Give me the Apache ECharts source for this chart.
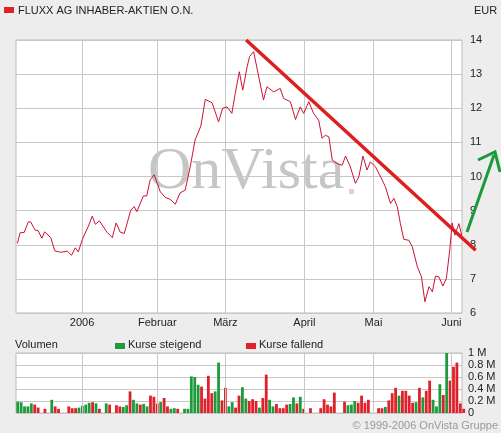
<!DOCTYPE html>
<html><head><meta charset="utf-8">
<script src="https://cdn.jsdelivr.net/npm/echarts@6/dist/echarts.min.js"></script>
<style>html,body{margin:0;padding:0;background:#ededed}#c{width:501px;height:433px}</style>
</head><body><div id="c"></div>
<script>
const title = "FLUXX AG INHABER-AKTIEN O.N.";
const priceDay = [0.4,1.2,2.4,3.6,4.3,5.6,6.5,7.6,8.4,10.2,11.4,13.1,15.1,16.3,17.4,18.3,19.5,21.2,22.4,23.3,24.5,26.7,28.3,29.4,30.6,31.8,33.7,34.7,35.5,37.4,38.4,39.4,40.6,42.4,43.8,45.3,46.8,48.2,49.7,51.2,52.6,54.3,55.6,57.6,59.5,60.7,62,63.4,64.4,65.6,66.6,67.9,68.6,69.8,72.7,73.7,75.7,77.6,78.6,80.6,82.1,83.5,84.5,86,87.4,88.9,89.9,90.9,91.9,92.9,94.3,95.8,96.8,98.2,99.7,100.7,101.9,103.1,104.1,105.6,107.1,108.5,110,111,112,112.9,113.9,115.4,116.4,117.9,119.1,120.1,121.3,122.3,123.2,124.2,125.4,126.4,127.4,128.1,128.9,130.1,130.9];
const priceVal = [8.04,8.35,8.36,8.67,8.67,8.43,8.41,8.19,8.38,8.21,7.82,7.78,7.81,7.69,7.91,7.79,8.16,8.53,8.84,8.6,8.7,8.37,8.21,8.64,8.37,8.33,9.01,9.12,8.97,9.43,9.43,9.9,10.05,9.55,9.39,9.33,9.19,9.52,9.6,10.3,11.07,11.48,12.26,12.16,11.6,12.0,12.04,11.85,12.44,13.07,12.53,13.22,13.51,13.66,12.24,12.63,12.48,12.58,12.29,12.19,11.67,12.04,11.85,12.19,11.85,11.65,11.12,11.21,11.16,10.48,10.38,10.33,10.6,10.28,9.8,9.99,10.6,10.19,10.43,10.28,9.99,9.7,9.21,9.36,9.11,8.62,8.16,8.13,7.94,7.35,7.06,6.33,6.77,6.62,7.08,7.06,6.79,7.01,7.84,8.64,8.28,8.62,8.28];
const volume = [0.19,0.18,0.11,0.11,0.16,0.14,0.09,0,0.07,0,0.22,0.11,0.07,0,0,0.11,0.08,0.08,0.09,0.12,0.14,0.17,0.18,0.16,0.07,0,0.16,0.14,0,0.13,0.11,0.10,0.13,0.36,0.22,0.16,0.14,0.15,0.11,0.29,0.27,0.16,0.18,0.25,0.11,0.07,0.08,0.07,0,0.07,0.07,0.61,0.60,0.47,0.44,0.24,0.62,0.33,0.36,0.84,0.21,0.42,0.11,0.18,0.09,0.29,0.43,0.24,0.20,0.23,0.20,0.09,0.25,0.64,0.22,0.11,0.15,0.08,0.08,0.14,0.15,0.26,0.16,0.27,0.07,0,0.08,0,0,0.08,0.23,0.14,0.11,0.34,0,0,0.19,0.13,0.14,0.20,0.17,0.29,0.17,0.22,0,0,0.08,0.08,0.10,0.21,0.33,0.42,0.29,0.37,0.37,0.29,0.17,0.18,0.42,0.26,0.37,0.54,0.22,0.11,0.48,0.30,1.0,0.54,0.77,0.84,0.16,0.07];
const volDir = "gggggrr-rrgr--grrrggggrg-rg-grrggrggrggrrrgrrgg-ggggggrrrrggrrggrrggrrrgrrggrrrrgg-g--rrgrr--rrrrgggr--rrrrrgrrrgrrrrgrgrrgggrgr";
const monthPos = [19.4,41.5,61.5,84.7,105,127.9];
const monthNames = ["2006","Februar","März","April","Mai","Juni"];
const trend = [[67.6,14],[135,7.84]];

const G='#1e9a3c', R='#e0202a';
const volData = volume.map((v,i)=>({value:[i+0.5,v],itemStyle:{color:volDir[i]==='g'?G:R}}));
const chart = echarts.init(document.getElementById('c'));
const ff = 'Liberation Sans, Arial, sans-serif';
const baseGraphic = [
    {type:'text',left:148,top:142,z:0,style:{text:'OnVista',font:'60px "Liberation Serif", serif',fill:'#c6c6c6'}},
    {type:'rect',left:349,top:189,z:0,shape:{width:5,height:5},style:{fill:'#f0c8d0'}},
    {type:'rect',left:4,top:7,shape:{width:10,height:6},style:{fill:R}},
    {type:'text',left:18,top:5,style:{text:title,font:'11px '+ff,fill:'#222'}},
    {type:'text',left:474,top:5,style:{text:'EUR',font:'11px '+ff,fill:'#222'}},
    {type:'text',left:15,top:339,style:{text:'Volumen',font:'11px '+ff,fill:'#222'}},
    {type:'rect',left:115,top:343,shape:{width:10,height:6},style:{fill:G}},
    {type:'text',left:128,top:339,style:{text:'Kurse steigend',font:'11px '+ff,fill:'#222'}},
    {type:'rect',left:246,top:343,shape:{width:10,height:6},style:{fill:R}},
    {type:'text',left:259,top:339,style:{text:'Kurse fallend',font:'11px '+ff,fill:'#222'}},
    {type:'text',right:3,top:420,style:{text:'© 1999-2006 OnVista Gruppe',font:'11px '+ff,fill:'#999'}},
    {type:'polyline',z:20,shape:{points:[[467,232],[494,155]]},style:{stroke:'#1a9a3a',lineWidth:3,fill:null}},
    {type:'polyline',z:20,shape:{points:[[478,160],[495,152],[500,172]]},style:{stroke:'#1a9a3a',lineWidth:3,fill:null}}
];
chart.setOption({
  backgroundColor:'#ededed', animation:false,
  textStyle:{fontFamily:ff},
  grid:[
    {left:16,right:39,top:40,height:273,show:true,backgroundColor:'#fff',borderColor:'#bbb',borderWidth:1},
    {left:16,right:39,top:353,height:60,show:true,backgroundColor:'#fff',borderColor:'#bbb',borderWidth:1}
  ],
  xAxis:[
    {type:'value',gridIndex:0,min:0,max:131,show:false},
    {type:'value',gridIndex:1,min:0,max:131,show:false}
  ],
  yAxis:[
    {type:'value',gridIndex:0,position:'right',min:6,max:14,interval:1,
     axisLine:{show:false},axisTick:{show:false},
     axisLabel:{color:'#222',fontSize:11,margin:8},
     splitLine:{lineStyle:{color:'#c8c8c8'}}},
    {type:'value',gridIndex:1,position:'right',min:0,max:1,interval:0.2,
     axisLine:{show:false},axisTick:{show:false},
     axisLabel:{color:'#222',fontSize:11,margin:6,formatter:v=>v===0?'0':(Math.round(v*10)/10)+' M'},
     splitLine:{lineStyle:{color:'#c8c8c8'}}}
  ],
  series:[
    {type:'line',xAxisIndex:0,yAxisIndex:0,z:10,zlevel:1,data:priceDay.map((d,i)=>[d,priceVal[i]]),
     showSymbol:false,lineStyle:{color:'#cc1133',width:1}},
    {type:'line',xAxisIndex:0,yAxisIndex:0,data:[],
     markLine:{silent:true,symbol:'none',lineStyle:{color:'#c8c8c8',type:'solid',width:1},
       label:{position:'start',distance:4,color:'#222',fontSize:11,formatter:p=>monthNames[p.dataIndex]},
       data:monthPos.map(p=>({xAxis:p}))}},
    {type:'bar',xAxisIndex:1,yAxisIndex:1,data:volData,barWidth:2.8,
     markLine:{silent:true,symbol:'none',lineStyle:{color:'#c8c8c8',type:'solid',width:1},label:{show:false},
       data:monthPos.map(p=>({xAxis:p}))}}
  ],
  graphic: baseGraphic
});
const p1 = chart.convertToPixel({gridIndex:0}, trend[0]);
const p2 = chart.convertToPixel({gridIndex:0}, trend[1]);
chart.setOption({graphic: baseGraphic.concat([{type:'line',z:10,zlevel:2,shape:{x1:p1[0],y1:p1[1],x2:p2[0],y2:p2[1]},style:{stroke:'#dd1f1f',lineWidth:3.5}}])});
</script></body></html>
